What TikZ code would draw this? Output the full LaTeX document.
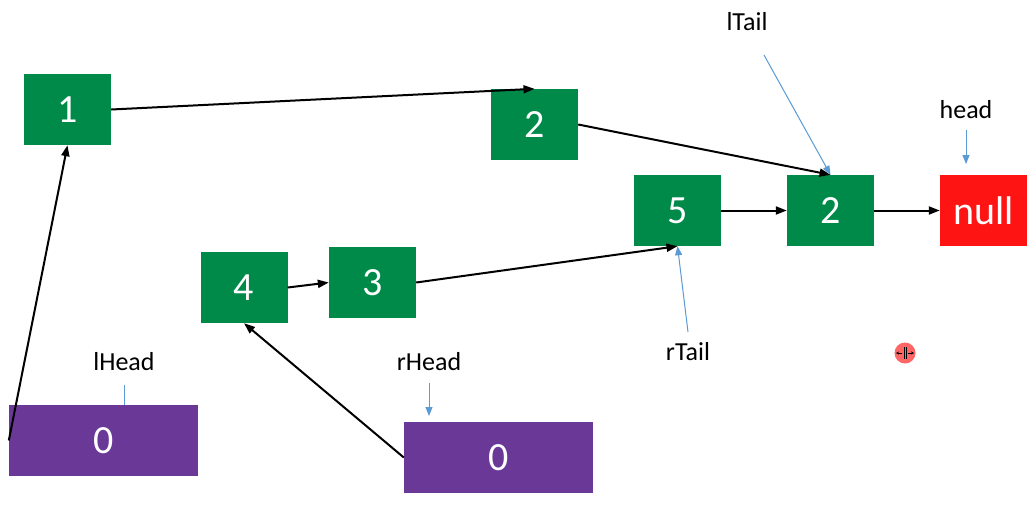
\documentclass[tikz,border=0pt]{standalone}
\usepackage{fontspec}
\setmainfont{Carlito}
\usetikzlibrary{arrows.meta}
\definecolor{boxgreen}{RGB}{0,138,74}
\definecolor{boxred}{RGB}{255,20,20}
\definecolor{boxpurple}{RGB}{106,56,151}
\definecolor{ptrblue}{RGB}{91,155,213}
\tikzset{
  listbox/.style={fill=boxgreen, minimum width=87pt, minimum height=71pt, inner sep=0pt, text=white, font=\fontsize{40}{42}\selectfont},
  nullbox/.style={listbox, fill=boxred},
  headbox/.style={listbox, fill=boxpurple, minimum width=189pt},
  lbl/.style={inner sep=0pt, font=\fontsize{26}{28}\selectfont},
  link/.style={line width=2pt, -{Triangle[length=11pt,width=8pt]}},
  ptr/.style={ptrblue, line width=1pt, -{Triangle[length=9pt,width=7pt]}},
}
\begin{document}
\begin{tikzpicture}[x=1pt,y=-1pt]
\useasboundingbox (0,0) rectangle (1035,509);
\fill[white] (0,0) rectangle (1035,509);
% nodes
\node[listbox] (n1) at (67.5,109.5) {1};
\node[listbox] (n2) at (534.5,124.5) {2};
\node[listbox] (n5) at (677.5,210.5) {5};
\node[listbox] (m2) at (830.5,210.5) {2};
\node[nullbox] (nl) at (983.5,210.5) {null};
\node[listbox] (n4) at (244,287.5) {4};
\node[listbox] (n3) at (372.5,282.5) {3};
\node[headbox] (lh) at (103.5,440.5) {0};
\node[headbox] (rh) at (498.5,457.5) {0};
% labels
\node[lbl] (ltail) at (747,22) {lTail};
\node[lbl] (head) at (966,110) {head};
\node[lbl] (lhead) at (124,362) {lHead};
\node[lbl] (rhead) at (429,362) {rHead};
\node[lbl] (rtail) at (688,352) {rTail};
% black links
\draw[link] (lh.west) -- (n1.south);
\draw[link] (n1.east) -- (n2.north);
\draw[link] (n2.east) -- (m2.north);
\draw[link] (n5.east) -- (m2.west);
\draw[link] (m2.east) -- (nl.west);
\draw[link] (n4.east) -- (n3.west);
\draw[link] (n3.east) -- (n5.south);
\draw[link] (rh.west) -- (n4.south);
% blue pointers
\coordinate (ltailS) at (764,55);
\coordinate (headS) at (966,130);
\coordinate (headE) at (966,164);
\coordinate (lheadS) at (124,385);
\coordinate (lheadE) at (124,405);
\coordinate (rheadS) at (429,383);
\coordinate (rheadE) at (429,416);
\coordinate (rtailS) at (688,332);
\draw[ptr] (ltailS) -- (m2.north);
\draw[ptr] (headS) -- (headE);
\draw[ptrblue, line width=1pt] (lheadS) -- (lheadE);
\draw[ptr] (rheadS) -- (rheadE);
\draw[ptr] (rtailS) -- (n5.south);
% cursor icon
\fill[red!75!white, opacity=0.8] (905,353) circle (10.5);
\draw[line width=0.8pt] (904,347) -- (904,359) (906,347) -- (906,359);
\draw[line width=0.8pt, -{Stealth[length=3pt,width=3pt]}] (902,353) -- (896,353);
\draw[line width=0.8pt, -{Stealth[length=3pt,width=3pt]}] (908,353) -- (914,353);
\end{tikzpicture}
\end{document}
